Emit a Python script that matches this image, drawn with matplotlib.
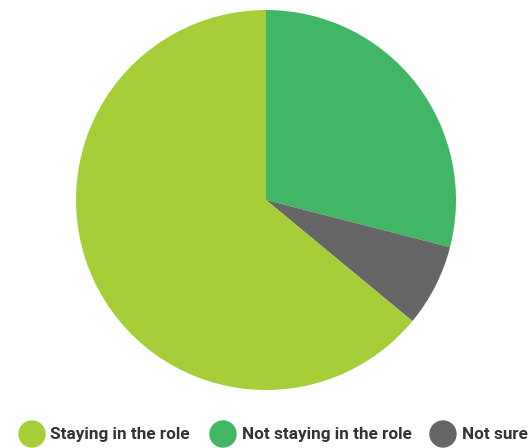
import matplotlib
matplotlib.use('Agg')
import matplotlib.pyplot as plt
from matplotlib.patches import Ellipse

labels = ['Staying in the role', 'Not staying in the role', 'Not sure']
values = [64, 29, 7]
colors = ['#A6CE39', '#41B766', '#666666']

W, H = 530, 448
fig = plt.figure(figsize=(W / 100, H / 100), dpi=100)

# pie axes: center (266, 200) px from top, radius 190 px
cx, cy, r = 266, 200, 190
ax = fig.add_axes([(cx - r) / W, (H - cy - r) / H, 2 * r / W, 2 * r / H])
# clockwise from 12 o'clock: Not staying, Not sure, then Staying
order = [1, 2, 0]
ax.pie([values[i] for i in order], colors=[colors[i] for i in order],
       startangle=90, counterclock=False, radius=1,
       wedgeprops={'linewidth': 0})
ax.set_xlim(-1, 1)
ax.set_ylim(-1, 1)
ax.set_aspect('equal')
ax.axis('off')

# legend drawn by hand along the bottom (runs off the right edge)
leg_y = 434
dot_x = [32, 223, 443]
text_x = [50, 242, 462]
for lab, col, dx, tx in zip(labels, colors, dot_x, text_x):
    fig.patches.append(Ellipse((dx / W, (H - leg_y) / H), 26 / W, 26 / H,
                               transform=fig.transFigure, color=col))
    fig.text(tx / W, (H - leg_y) / H, lab, fontsize=12.3, fontfamily='Roboto',
             fontweight='bold', color='#333333', va='center', ha='left')

fig.savefig('out.png', dpi=100)
